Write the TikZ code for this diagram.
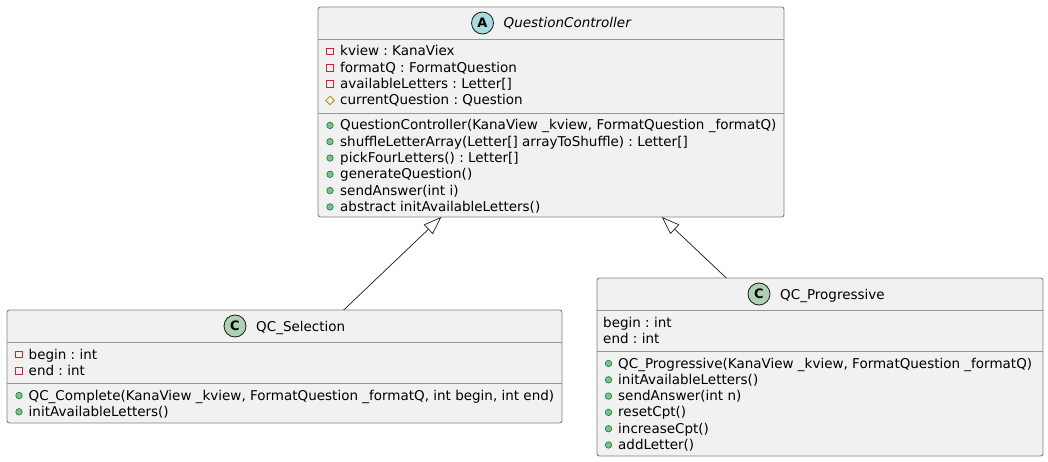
\documentclass[tikz,border=0pt]{standalone}
\usepackage{fontspec}
\setmainfont{DejaVu Sans}
\usetikzlibrary{arrows.meta,shapes.geometric}
\definecolor{boxfill}{HTML}{F1F1F1}
\definecolor{boxline}{HTML}{808080}
\definecolor{sepc}{HTML}{959595}
\definecolor{arrc}{HTML}{181818}
\definecolor{privc}{HTML}{C82930}
\definecolor{protc}{HTML}{B38D22}
\definecolor{pubf}{HTML}{84BE84}
\definecolor{pubd}{HTML}{038048}
\definecolor{absf}{HTML}{A9DCDF}
\definecolor{clsf}{HTML}{ADD1B2}
\frenchspacing
\begin{document}
\frenchspacing
\begin{tikzpicture}[x=1pt,y=-1pt,
  cls/.style={rectangle,draw=boxline,fill=boxfill,line width=0.9pt,rounded corners=2.5pt,inner sep=0pt,outer sep=0pt},
  sepline/.style={draw=sepc,line width=0.9pt},
  txt/.style={anchor=base west,inner sep=0pt,font=\fontsize{13.5}{16}\selectfont},
  ttl/.style={anchor=base west,inner sep=0pt,font=\fontsize{13.5}{16}\selectfont},
  clsicon/.style={circle,draw=arrc,line width=0.8pt,minimum size=22pt,inner sep=0pt,font=\fontsize{13}{13}\selectfont\bfseries},
  priv/.style={rectangle,draw=privc,line width=0.8pt,minimum size=6.5pt,inner sep=0pt},
  prot/.style={diamond,draw=protc,line width=0.8pt,minimum size=9pt,inner sep=0pt},
  pub/.style={circle,draw=pubd,fill=pubf,line width=0.6pt,minimum size=6.5pt,inner sep=0pt},
  inh/.style={draw=arrc,line width=0.7pt,-{Triangle[open,length=18pt,width=13pt]}}
]
\useasboundingbox (0,0) rectangle (1048,462);

% ---------- QuestionController ----------
\node[cls,minimum width=466pt,minimum height=210pt] (qc) at (551,112) {};
\draw[sepline] (qc.west |- 0,39) -- (qc.east |- 0,39);
\draw[sepline] (qc.west |- 0,113.4) -- (qc.east |- 0,113.4);
\node[clsicon,fill=absf] (qcicon) at (482.5,23) {A};
\node[ttl,font=\fontsize{13.5}{16}\selectfont\itshape] (qcname) at (503.5,28) {QuestionController};

\node[priv] (qcv1) at (330,51.5) {};
\node[txt] (qca1) at (340,56) {kview : KanaViex};
\node[priv] (qcv2) at (330,67.8) {};
\node[txt] (qca2) at (340,72.3) {formatQ : FormatQuestion};
\node[priv] (qcv3) at (330,84.1) {};
\node[txt] (qca3) at (340,88.6) {availableLetters : Letter[]};
\node[prot] (qcv4) at (330,100.4) {};
\node[txt] (qca4) at (340,104.9) {currentQuestion : Question};

\node[pub] (qcm1i) at (330,125.4) {};
\node[txt] (qcm1) at (340,129.9) {QuestionController(KanaView \_kview, FormatQuestion \_formatQ)};
\node[pub] (qcm2i) at (330,141.7) {};
\node[txt] (qcm2) at (340,146.2) {shuffleLetterArray(Letter[] arrayToShuffle) : Letter[]};
\node[pub] (qcm3i) at (330,158) {};
\node[txt] (qcm3) at (340,162.5) {pickFourLetters() : Letter[]};
\node[pub] (qcm4i) at (330,174.3) {};
\node[txt] (qcm4) at (340,178.8) {generateQuestion()};
\node[pub] (qcm5i) at (330,190.6) {};
\node[txt] (qcm5) at (340,195.1) {sendAnswer(int i)};
\node[pub] (qcm6i) at (330,206.9) {};
\node[txt] (qcm6) at (340,211.4) {abstract initAvailableLetters()};

% ---------- QC_Selection ----------
\node[cls,minimum width=555pt,minimum height=113pt] (sel) at (284.5,366.5) {};
\draw[sepline] (sel.west |- 0,342) -- (sel.east |- 0,342);
\draw[sepline] (sel.west |- 0,383.5) -- (sel.east |- 0,383.5);
\node[clsicon,fill=clsf] (selicon) at (235,326) {C};
\node[ttl] (selname) at (256,331) {QC\_Selection};

\node[priv] (selv1) at (19,354.5) {};
\node[txt] (sela1) at (28.5,359) {begin : int};
\node[priv] (selv2) at (19,370.8) {};
\node[txt] (sela2) at (28.5,375.3) {end : int};

\node[pub] (selm1i) at (19,395.5) {};
\node[txt] (selm1) at (28.5,400) {QC\_Complete(KanaView \_kview, FormatQuestion \_formatQ, int begin, int end)};
\node[pub] (selm2i) at (19,411.8) {};
\node[txt] (selm2) at (28.5,416.3) {initAvailableLetters()};

% ---------- QC_Progressive ----------
\node[cls,minimum width=446pt,minimum height=178pt] (prog) at (820,367) {};
\draw[sepline] (prog.west |- 0,310) -- (prog.east |- 0,310);
\draw[sepline] (prog.west |- 0,351.5) -- (prog.east |- 0,351.5);
\node[clsicon,fill=clsf] (progicon) at (759,294) {C};
\node[ttl] (progname) at (780,299) {QC\_Progressive};

\node[txt] (proga1) at (603,327) {begin : int};
\node[txt] (proga2) at (603,343.3) {end : int};

\node[pub] (progm1i) at (608.5,363.5) {};
\node[txt] (progm1) at (618,368) {QC\_Progressive(KanaView \_kview, FormatQuestion \_formatQ)};
\node[pub] (progm2i) at (608.5,379.8) {};
\node[txt] (progm2) at (618,384.3) {initAvailableLetters()};
\node[pub] (progm3i) at (608.5,396.1) {};
\node[txt] (progm3) at (618,400.6) {sendAnswer(int n)};
\node[pub] (progm4i) at (608.5,412.4) {};
\node[txt] (progm4) at (618,416.9) {resetCpt()};
\node[pub] (progm5i) at (608.5,428.7) {};
\node[txt] (progm5) at (618,433.2) {increaseCpt()};
\node[pub] (progm6i) at (608.5,445) {};
\node[txt] (progm6) at (618,449.5) {addLetter()};

% ---------- inheritance ----------
\draw[inh] (sel) -- (qc);
\draw[inh] (prog) -- (qc);
\end{tikzpicture}
\end{document}
